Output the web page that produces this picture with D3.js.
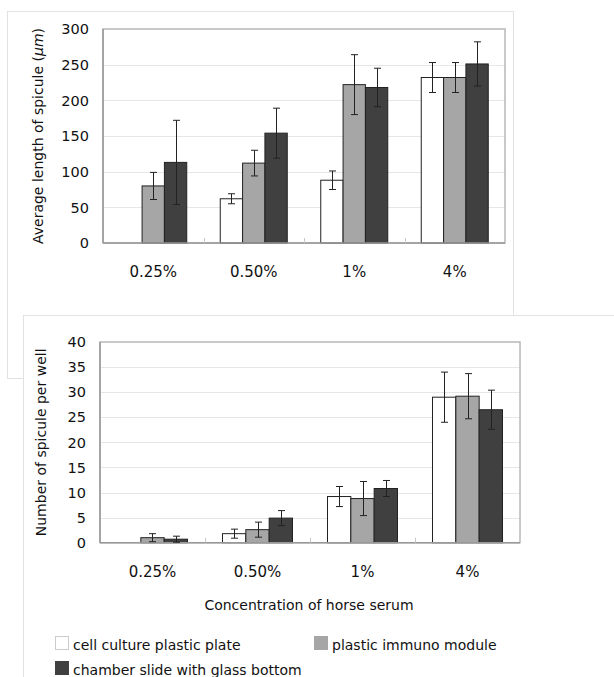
<!DOCTYPE html>
<html>
<head>
<meta charset="utf-8">
<script src="https://cdn.jsdelivr.net/npm/d3@7"></script>
<style>
  body { margin: 0; background: #fff; }
  text { font-family: "DejaVu Sans", sans-serif; fill: #111; }
</style>
</head>
<body>
<script>
const categories = ['0.25%', '0.50%', '1%', '4%']
const series = ['cell culture plastic plate', 'plastic immuno module', 'chamber slide with glass bottom']
const fills = ['#ffffff', '#a6a6a6', '#404040']

// average length of spicule (um), per series, per category
const lengthMean = [
  [0, 62, 88, 232],
  [80, 112, 222, 232],
  [113, 154, 218, 251]
]
const lengthErr = [
  [0, 7, 13, 21],
  [19, 18, 42, 21],
  [59, 35, 27, 31]
]
const lengthTicks = [0, 50, 100, 150, 200, 250, 300]

// number of spicule per well
const countMean = [
  [0, 1.8, 9.2, 29.0],
  [1.0, 2.6, 8.8, 29.2],
  [0.7, 4.9, 10.8, 26.5]
]
const countErr = [
  [0, 0.9, 2.0, 5.0],
  [0.8, 1.5, 3.4, 4.5],
  [0.6, 1.5, 1.6, 3.9]
]
const countTicks = [0, 5, 10, 15, 20, 25, 30, 35, 40]

const W = 614, H = 677

const svg = d3.select('body').append('svg')
  .attr('width', W)
  .attr('height', H)

// outer frames of the two pasted charts
svg.append('rect')
  .attr('x', 7.5).attr('y', 11.5)
  .attr('width', 506).attr('height', 367)
  .attr('fill', '#fff').attr('stroke', '#e2e2e2')

let drawChart = function (g, box, mean, err, ticks, yLabel, labelX, catY) {
  const x0 = d3.scaleBand().domain(categories).range([box.left, box.right])
  const x1 = d3.scaleBand().domain(d3.range(series.length))
    .range([0, x0.bandwidth()]).paddingOuter(0.75)
  const y = d3.scaleLinear().domain([0, d3.max(ticks)]).range([box.bottom, box.top])

  // grid
  g.append('g').selectAll('line')
    .data(ticks.slice(1, -1))
    .join('line')
    .attr('x1', box.left).attr('x2', box.right)
    .attr('y1', d => Math.round(y(d)) + 0.5).attr('y2', d => Math.round(y(d)) + 0.5)
    .attr('stroke', '#e6e6e6')

  // plot border
  g.append('rect')
    .attr('x', box.left).attr('y', box.top)
    .attr('width', box.right - box.left).attr('height', box.bottom - box.top)
    .attr('fill', 'none').attr('stroke', '#b8b8b8').attr('stroke-width', 1.5)

  // bars
  series.forEach((s, i) => {
    const bars = g.append('g')
    bars.selectAll('rect')
      .data(categories.map((c, j) => ({ c: c, v: mean[i][j], e: err[i][j] })).filter(d => d.v > 0))
      .join('rect')
      .attr('x', d => x0(d.c) + x1(i))
      .attr('y', d => y(d.v))
      .attr('width', x1.bandwidth())
      .attr('height', d => y(0) - y(d.v))
      .attr('fill', fills[i])
      .attr('stroke', '#222')
      .attr('stroke-width', 1)
  })

  // axes lines
  g.append('line')
    .attr('x1', box.left).attr('x2', box.right)
    .attr('y1', box.bottom).attr('y2', box.bottom)
    .attr('stroke', '#999').attr('stroke-width', 1.5)
  g.append('line')
    .attr('x1', box.left).attr('x2', box.left)
    .attr('y1', box.top).attr('y2', box.bottom)
    .attr('stroke', '#999').attr('stroke-width', 1.5)

  // small category separators
  g.append('g').selectAll('line')
    .data(categories.slice(1))
    .join('line')
    .attr('x1', d => Math.round(x0(d)) + 0.5).attr('x2', d => Math.round(x0(d)) + 0.5)
    .attr('y1', box.bottom).attr('y2', box.bottom - 5)
    .attr('stroke', '#c8c8c8')

  // error bars
  series.forEach((s, i) => {
    const eb = g.append('g').attr('stroke', '#222').attr('stroke-width', 1)
    categories.forEach((c, j) => {
      if (mean[i][j] <= 0) return
      const cx = Math.round(x0(c) + x1(i) + x1.bandwidth() / 2) + 0.5
      const hi = y(mean[i][j] + err[i][j])
      const lo = y(Math.max(0, mean[i][j] - err[i][j]))
      eb.append('line').attr('x1', cx).attr('x2', cx).attr('y1', hi).attr('y2', lo)
      eb.append('line').attr('x1', cx - 3.5).attr('x2', cx + 3.5).attr('y1', hi).attr('y2', hi)
      eb.append('line').attr('x1', cx - 3.5).attr('x2', cx + 3.5).attr('y1', lo).attr('y2', lo)
    })
  })

  // y tick labels
  g.append('g').selectAll('text')
    .data(ticks)
    .join('text')
    .attr('x', box.left - 14)
    .attr('y', d => y(d))
    .attr('dy', '0.36em')
    .attr('text-anchor', 'end')
    .style('font-size', '14.5px')
    .text(d => d)

  // category labels
  g.append('g').selectAll('text')
    .data(categories)
    .join('text')
    .attr('x', d => x0(d) + x0.bandwidth() / 2)
    .attr('y', catY)
    .attr('text-anchor', 'middle')
    .style('font-size', '15px')
    .text(d => d)

  // y title
  const t = g.append('text')
    .attr('transform', `translate(${labelX}, ${(box.top + box.bottom) / 2}) rotate(-90)`)
    .attr('text-anchor', 'middle')
    .style('font-size', '14px')
  yLabel(t)
}

const topChart = svg.append('g')
drawChart(topChart, { left: 103, right: 505, top: 29, bottom: 243 },
  lengthMean, lengthErr, lengthTicks,
  t => {
    t.append('tspan').text('Average length of spicule (')
    t.append('tspan').style('font-style', 'italic').text('\u03bcm')
    t.append('tspan').text(')')
  }, 43, 277)

svg.append('rect')
  .attr('x', 23.5).attr('y', 315.5)
  .attr('width', 620).attr('height', 400)
  .attr('fill', '#fff').attr('stroke', '#e2e2e2')

const bottomChart = svg.append('g')
drawChart(bottomChart, { left: 100, right: 520, top: 342, bottom: 542.7 },
  countMean, countErr, countTicks,
  t => t.text('Number of spicule per well'), 46, 577)

bottomChart.append('text')
  .attr('x', 309).attr('y', 610)
  .attr('text-anchor', 'middle')
  .style('font-size', '14px')
  .text('Concentration of horse serum')

// legend
const legendPos = [[55, 636], [314, 636], [55, 661]]
const legend = svg.append('g').selectAll('g')
  .data(series)
  .join('g')
  .attr('transform', (d, i) => `translate(${legendPos[i][0]}, ${legendPos[i][1]})`)
legend.append('rect')
  .attr('x', 0.5).attr('y', 0.5)
  .attr('width', 13).attr('height', 13)
  .attr('fill', (d, i) => fills[i])
  .attr('stroke', (d, i) => i === 0 ? '#ccc' : fills[i])
legend.append('text')
  .attr('x', 18).attr('y', 13.5)
  .style('font-size', '14px')
  .text(d => d)
</script>
</body>
</html>
